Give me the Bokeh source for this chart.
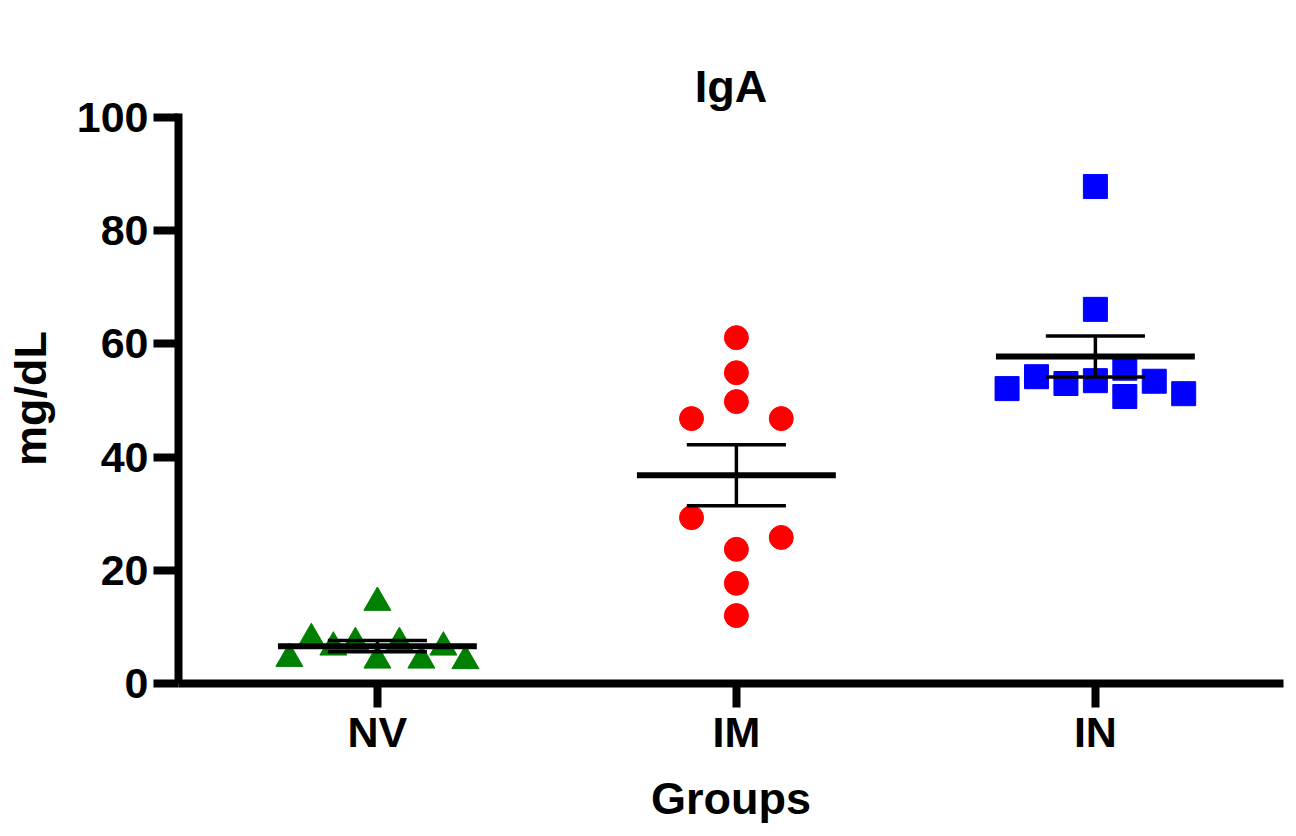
import numpy as np
from bokeh.plotting import figure
from bokeh.models import Range1d, FixedTicker, ColumnDataSource, LinearAxis
from bokeh.embed import file_html
from bokeh.resources import INLINE

# ---- data ----
title_text = "IgA"
categories = ["NV", "IM", "IN"]
nv_values = [14.3, 7.9, 6.4, 7.2, 4.1, 7.2, 4.1, 6.4, 4.4, 4.0]
im_values = [61.1, 54.9, 49.8, 46.8, 46.8, 29.3, 25.8, 23.7, 17.7, 12.0]
in_values = [87.8, 66.1, 52.1, 54.2, 53.0, 53.5, 55.7, 50.7, 53.4, 51.2]
y_ticks = [0, 20, 40, 60, 80, 100]

# beeswarm layout (horizontal slot index of each point, and slot width)
nv_slots = [0, -3, -2, -1, 0, 1, 2, 3, -4, 4]
im_slots = [0, 0, 0, -1, 1, -1, 1, 0, 0, 0]
in_slots = [0, 0, -3, -2, -1, 0, 1, 1, 2, 3]
slot_width = {"NV": 0.0613, "IM": 0.125, "IN": 0.082}

groups = [
    ("NV", nv_values, nv_slots, "triangle", "#008000", 27),
    ("IM", im_values, im_slots, "circle", "#FF0000", 24),
    ("IN", in_values, in_slots, "square", "#0000FF", 24),
]

FONT = "Liberation Sans"

p = figure(width=1296, height=836, output_backend="svg", toolbar_location=None,
           x_range=Range1d(0.446, 3.524), y_range=Range1d(0, 100.7),
           min_border_left=178, min_border_right=13, min_border_top=113,
           min_border_bottom=153, title=title_text)
p.outline_line_color = None
p.grid.visible = False
p.background_fill_color = "white"
p.border_fill_color = "white"

xax = p.below[0]
yax = p.left[0]

# invisible spacer between the frame and the title
spacer = LinearAxis(ticker=FixedTicker(ticks=[]), axis_line_color=None,
                    major_tick_line_color=None, minor_tick_line_color=None,
                    major_tick_out=52, major_tick_in=0, minor_tick_out=0,
                    minor_tick_in=0, major_label_standoff=0,
                    major_label_text_font_size="1px")
p.add_layout(spacer, "above")

p.title.text_font = FONT
p.title.text_font_style = "bold"
p.title.text_font_size = "45px"
p.title.text_color = "black"
p.title.align = "center"
p.title.vertical_align = "top"
p.title.offset = 11
p.title.standoff = 0

for i, (name, vals, slots, marker, color, size) in enumerate(groups):
    cx = i + 1
    xs = [cx + s * slot_width[name] for s in slots]
    src = ColumnDataSource(dict(x=xs, y=vals))
    p.scatter("x", "y", source=src, marker=marker, size=size,
              fill_color=color, line_color=color)

for i, (name, vals, slots, marker, color, size) in enumerate(groups):
    cx = i + 1
    arr = np.array(vals)
    m = arr.mean()
    sem = arr.std(ddof=1) / np.sqrt(len(arr))
    p.segment(x0=[cx - 0.277], x1=[cx + 0.277], y0=[m], y1=[m],
              line_color="black", line_width=6)
    p.segment(x0=[cx - 0.138, cx - 0.138, cx], x1=[cx + 0.138, cx + 0.138, cx],
              y0=[m + sem, m - sem, m - sem], y1=[m + sem, m - sem, m + sem],
              line_color="black", line_width=3.5)

for ax in (xax, yax):
    ax.axis_line_width = 8
    ax.axis_line_color = "black"
    ax.major_tick_line_width = 8
    ax.major_tick_line_color = "black"
    ax.major_tick_in = 0
    ax.minor_tick_line_color = None
    ax.major_label_text_font = FONT
    ax.major_label_text_font_style = "bold"
    ax.major_label_text_font_size = "43px"
    ax.major_label_text_color = "black"
    ax.axis_label_text_font = FONT
    ax.axis_label_text_font_style = "bold"
    ax.axis_label_text_font_size = "45px"
    ax.axis_label_text_color = "black"

xax.ticker = FixedTicker(ticks=[1, 2, 3])
xax.major_label_overrides = {i + 1: c for i, c in enumerate(categories)}
xax.major_tick_out = 24
xax.major_label_standoff = 0
xax.axis_label = "Groups"
xax.axis_label_standoff = 14

yax.ticker = FixedTicker(ticks=y_ticks)
yax.major_tick_out = 25
yax.major_label_standoff = 5
yax.axis_label = "mg/dL"
yax.axis_label_standoff = 18

open("out.html", "w").write(file_html(p, INLINE))
